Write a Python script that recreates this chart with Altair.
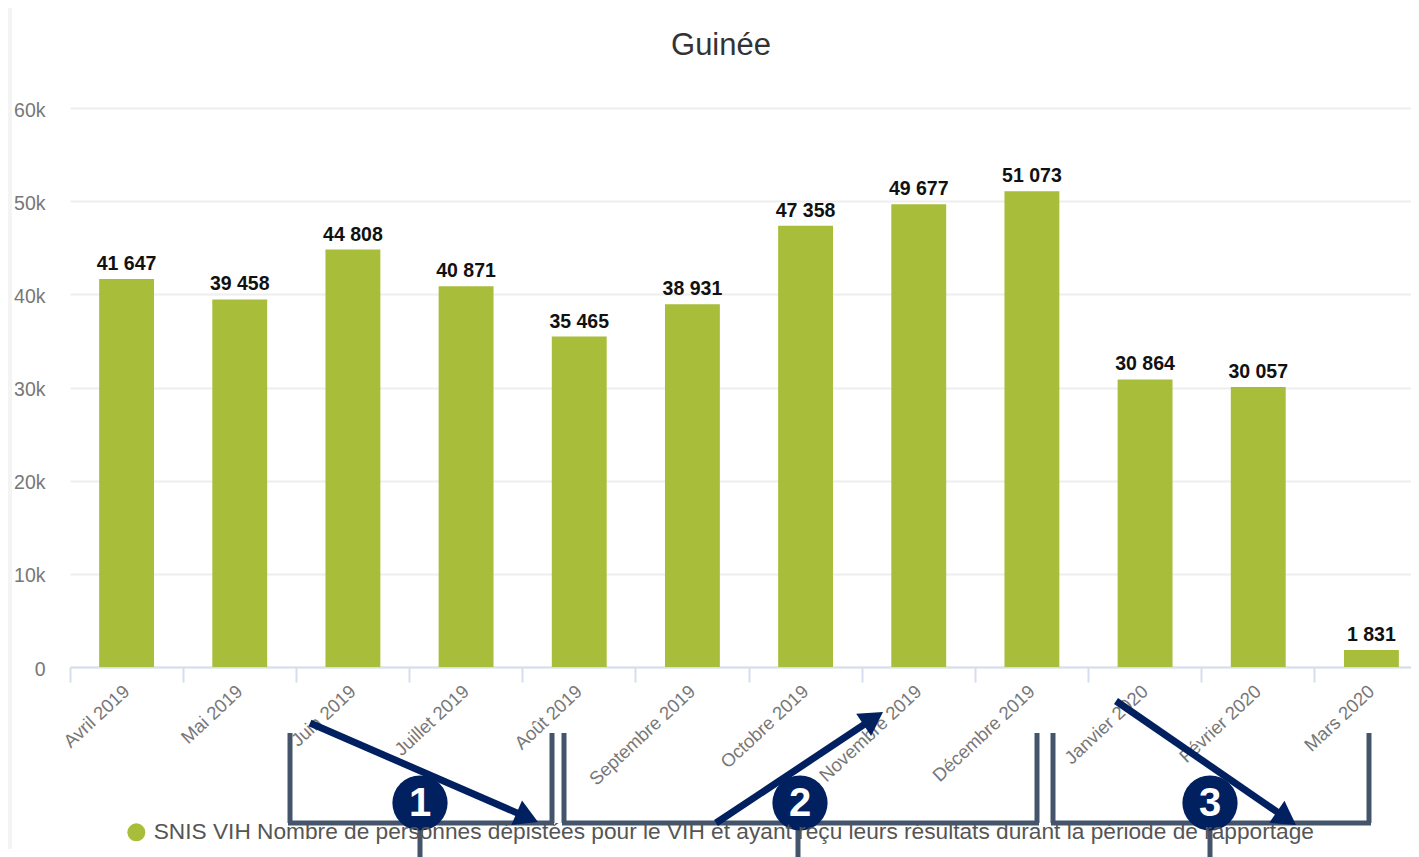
import math
import altair as alt
import pandas as pd

months = ["Avril 2019", "Mai 2019", "Juin 2019", "Juillet 2019", "Août 2019", "Septembre 2019",
          "Octobre 2019", "Novembre 2019", "Décembre 2019", "Janvier 2020", "Février 2020", "Mars 2020"]
values = [41647, 39458, 44808, 40871, 35465, 38931, 47358, 49677, 51073, 30864, 30057, 1831]
series_name = "SNIS VIH Nombre de personnes dépistées pour le VIH et ayant reçu leurs résultats durant la période de rapportage"
y_ticks = [0, 10000, 20000, 30000, 40000, 50000, 60000]

FONT = "Liberation Sans"
GREEN = "#a8bd3a"
NAVY = "#002060"
SLATE = "#44546a"

LEFT, TOP = 70, 108
def px(x): return x - LEFT
def py(y): return y - TOP

df = pd.DataFrame({"month": months, "value": values, "series": series_name})
df["label"] = [f"{v:,}".replace(",", " ") for v in values]

x_scale = alt.Scale(range=[0, 1358], paddingInner=0, paddingOuter=0)
y_scale = alt.Scale(domain=[0, 60000], nice=False)

x_enc = alt.X("month:N", sort=months, title=None, scale=x_scale,
              axis=alt.Axis(labelAngle=-43, labelAlign="right", labelBaseline="middle", labelFont=FONT,
                            labelFontSize=18.5, labelColor="#777777", labelPadding=6, labelOverlap=False,
                            labelBound=False, labelLimit=400, labelOffset=0,
                            domainColor="#d5deee", domainWidth=2, tickColor="#d5deee", tickWidth=2, tickSize=15,
                            bandPosition=0, grid=False))
y_enc = alt.Y("value:Q", title=None, scale=y_scale,
              axis=alt.Axis(values=y_ticks, labelExpr="datum.value == 0 ? '0' : datum.value / 1000 + 'k'",
                            labelFont=FONT, labelFontSize=19.5, labelColor="#777777", labelPadding=25,
                            labelOffset=2, ticks=False, domain=False, gridColor="#eeeeee", gridWidth=2))

bars = alt.Chart(df).mark_bar(width=alt.RelativeBandSize(band=0.485)).encode(
    x=x_enc, y=y_enc,
    color=alt.Color("series:N", scale=alt.Scale(range=[GREEN]),
                    legend=alt.Legend(title=None, orient="none", legendX=55, legendY=713, padding=0,
                                      symbolType="circle", symbolSize=324, symbolStrokeWidth=0,
                                      labelFont=FONT, labelFontSize=22.7, labelColor="#555555",
                                      labelLimit=1400, labelOffset=6)),
)
labels = alt.Chart(df).mark_text(font=FONT, fontSize=19.5, fontWeight="bold", color="#111111", dy=-15).encode(
    x=alt.X("month:N", sort=months), y=alt.Y("value:Q"), text="label:N")

# Annotation shapes, in page pixels
one = alt.Data(values=[{}])
def seg(x1, y1, x2, y2, color, width, cap="butt"):
    return alt.Chart(one).mark_rule(color=color, strokeWidth=width, strokeCap=cap).encode(
        x=alt.value(px(x1)), x2=alt.value(px(x2)), y=alt.value(py(y1)), y2=alt.value(py(y2)))

brackets = [(290, 552), (564, 1037), (1053, 1369)]
bracket_top, bracket_bottom = 733, 823
stems = [420, 798, 1210]
arrows = [((310, 723), (538, 822)), ((716, 823), (883, 712)), ((1116, 701), (1296, 825))]
badges = [(420, 803, "1"), (800, 803, "2"), (1210, 803, "3")]

overlay = [seg(10, 8, 10, 849, "#f4f4f4", 4)]
overlay.append(alt.Chart(one).mark_text(text="Guinée", font=FONT, fontSize=31, color="#333333",
                                        align="center", baseline="middle").encode(
    x=alt.value(px(721)), y=alt.value(py(46))))
for xa, xb in brackets:
    overlay += [seg(xa, bracket_top, xa, bracket_bottom, SLATE, 5),
                seg(xb, bracket_top, xb, bracket_bottom, SLATE, 5),
                seg(xa - 2, bracket_bottom, xb + 2, bracket_bottom, SLATE, 5)]
for xs in stems:
    overlay.append(seg(xs, 825, xs, 857, SLATE, 5))
HEAD = 720
for (x1, y1), (x2, y2) in arrows:
    L = math.hypot(x2 - x1, y2 - y1)
    ux, uy = (x2 - x1) / L, (y2 - y1) / L
    h = 0.433 * math.sqrt(HEAD)
    cx, cy = x2 - ux * h, y2 - uy * h
    ang = math.degrees(math.atan2(ux, -uy)) % 360
    overlay.append(seg(x1, y1, cx, cy, NAVY, 7))
    overlay.append(alt.Chart(one).mark_point(shape="triangle-up", filled=True, opacity=1, color=NAVY,
                                             size=HEAD, angle=ang).encode(
        x=alt.value(px(cx)), y=alt.value(py(cy))))
for bx, by, t in badges:
    overlay.append(alt.Chart(one).mark_point(shape="circle", filled=True, opacity=1, color=NAVY, size=3050).encode(
        x=alt.value(px(bx)), y=alt.value(py(by))))
    overlay.append(alt.Chart(one).mark_text(text=t, font=FONT, fontSize=40, fontWeight="bold", color="white",
                                            baseline="middle", align="center").encode(
        x=alt.value(px(bx)), y=alt.value(py(by + 1))))

chart = alt.layer(bars, labels, *overlay).properties(
    width=1341, height=559, background="white",
    autosize=alt.AutoSizeParams(type="none"),
    padding={"left": 62, "top": 100, "right": 0, "bottom": 190},
).configure_view(stroke=None)

chart.save("out.html", embed_options={"renderer": "svg", "actions": False})
